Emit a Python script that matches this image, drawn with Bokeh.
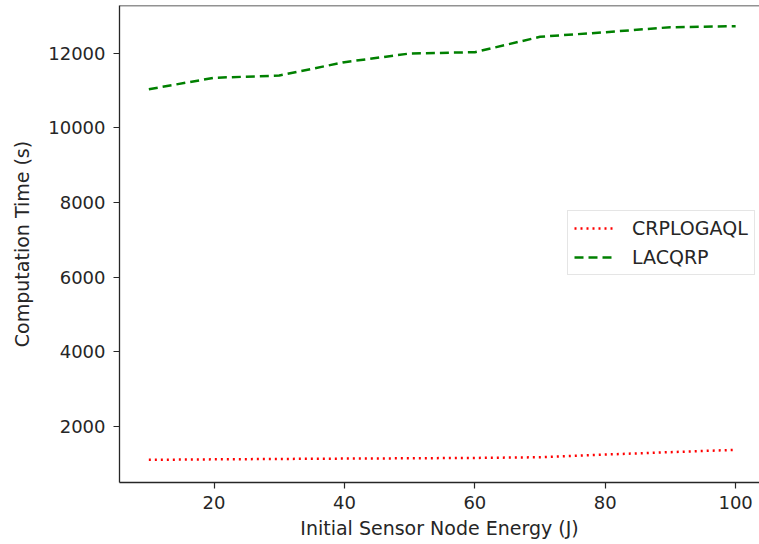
from bokeh.plotting import figure
from bokeh.models import Span, Legend, LegendItem, Range1d, FixedTicker
from bokeh.embed import file_html
from bokeh.resources import INLINE

energy = [10, 20, 30, 40, 50, 60, 70, 80, 90, 100]
crplogaql = [1099, 1112, 1122, 1132, 1140, 1150, 1168, 1240, 1305, 1367]
lacqrp = [11035, 11340, 11402, 11759, 11992, 12027, 12440, 12563, 12697, 12724]
x_ticks = [20, 40, 60, 80, 100]
y_ticks = [2000, 4000, 6000, 8000, 10000, 12000]

FONT = "DejaVu Sans"
INK = "#262626"
Y_TOP = 13279

p = figure(width=759, height=544, output_backend="svg", toolbar_location=None,
           x_range=Range1d(5.5, 103.66), y_range=Range1d(491, Y_TOP),
           min_border_left=119, min_border_right=0, min_border_top=5, min_border_bottom=62)
p.outline_line_color = None
p.xgrid.visible = False
p.ygrid.visible = False
p.background_fill_color = "white"
p.border_fill_color = "white"

r1 = p.line(energy, crplogaql, line_color="#ff0000", line_width=2.5, line_dash="2 4")
r2 = p.line(energy, lacqrp, line_color="#008000", line_width=2.5, line_dash="9 5")

p.add_layout(Span(location=Y_TOP, dimension="width", line_color=INK, line_width=1.3))

for ax in (p.xaxis[0], p.yaxis[0]):
    ax.axis_line_color = INK
    ax.axis_line_width = 1.3
    ax.major_tick_line_color = INK
    ax.major_tick_line_width = 1.2
    ax.major_tick_out = 6
    ax.major_tick_in = 0
    ax.minor_tick_line_color = None
    ax.major_label_text_font = FONT
    ax.major_label_text_font_size = "18px"
    ax.major_label_text_color = INK
    ax.axis_label_text_font = FONT
    ax.axis_label_text_font_size = "19px"
    ax.axis_label_text_font_style = "normal"
    ax.axis_label_text_color = INK

p.xaxis[0].ticker = FixedTicker(ticks=x_ticks)
p.yaxis[0].ticker = FixedTicker(ticks=y_ticks)
p.xaxis[0].axis_label = "Initial Sensor Node Energy (J)"
p.yaxis[0].axis_label = "Computation Time (s)"
p.xaxis[0].major_label_standoff = 7
p.xaxis[0].axis_label_standoff = 5
p.yaxis[0].major_label_standoff = 8
p.yaxis[0].axis_label_standoff = 12

legend = Legend(items=[LegendItem(label="CRPLOGAQL", renderers=[r1]),
                       LegendItem(label="LACQRP", renderers=[r2])],
                location=(448, 207))
legend.label_text_font = FONT
legend.label_text_font_size = "19px"
legend.label_text_color = INK
legend.border_line_color = "#cccccc"
legend.border_line_width = 1
legend.background_fill_alpha = 0.8
legend.padding = 6
legend.spacing = 7
legend.label_height = 22
legend.glyph_height = 22
legend.glyph_width = 39
legend.label_standoff = 19
legend.margin = 0
p.add_layout(legend, "center")

open("out.html", "w").write(file_html(p, INLINE))
